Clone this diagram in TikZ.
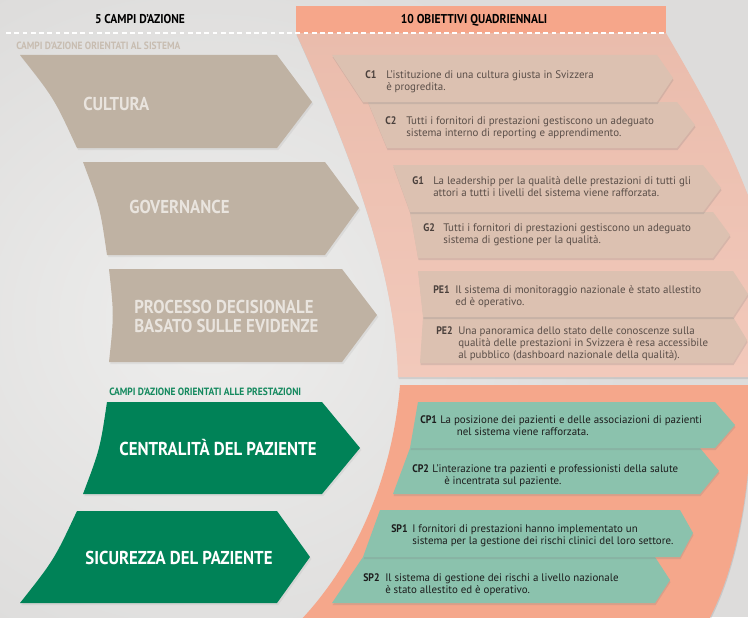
\documentclass[tikz,border=0pt]{standalone}
\usepackage{fontspec}
\setmainfont{PT Sans}[FakeStretch=0.9]
\newfontfamily\objfont{PT Sans}
\usetikzlibrary{shadows}
\definecolor{bgA}{HTML}{DDDCDB}
\definecolor{bgB}{HTML}{EEEEED}
\definecolor{hdr}{HTML}{F6A68A}
\definecolor{upA}{HTML}{EABCAC}
\definecolor{upB}{HTML}{F2C9BB}
\definecolor{lowband}{HTML}{F5A78B}
\definecolor{uppanel}{HTML}{DCC1B1}
\definecolor{lowpanel}{HTML}{8BC2AD}
\definecolor{beige}{HTML}{BFB2A3}
\definecolor{beigetext}{HTML}{E9E4DE}
\definecolor{beigelabel}{HTML}{C8BDB1}
\definecolor{green}{HTML}{008257}
\definecolor{greenlabel}{HTML}{14895E}
\definecolor{uptext}{HTML}{5A4E48}
\definecolor{uplab}{HTML}{4A403C}
\definecolor{lowtext}{HTML}{1C1C1C}
\tikzset{
  panelshadow/.style={drop shadow={opacity=0.22, shadow xshift=0.4pt, shadow yshift=-1.6pt}},
  arrowshadow/.style={drop shadow={opacity=0.12, shadow xshift=1pt, shadow yshift=-1.5pt}},
  head/.style={anchor=base, inner sep=0pt, font=\fontsize{9.6}{11}\selectfont\bfseries, text=black},
  grouplabel/.style={anchor=base west, inner sep=0pt, font=\fontsize{7.9}{9}\selectfont\bfseries},
  bigtext/.style={inner sep=0pt, font=\fontsize{14}{14.25}\selectfont\bfseries},
  objlab/.style={anchor=base west, inner sep=0pt, font=\fontsize{8.2}{9}\selectfont\bfseries},
  objtext/.style={anchor=base west, inner sep=0pt, font=\objfont\fontsize{8.2}{9}\selectfont},
}
\newcommand{\lines}[1]{\begin{tabular}[t]{@{}l@{}}#1\end{tabular}}
\begin{document}
\begin{tikzpicture}[x=0.75pt,y=-0.75pt]
\useasboundingbox (0,0) rectangle (748,617);
\clip (0,0) rectangle (748,617);
% background
\fill[bgA] (0,0) rectangle (748,617);
\shade[inner color=bgB, outer color=bgA] (210,320) ellipse [x radius=420, y radius=380];

% upper band
\shade[top color=upA, bottom color=upB, panelshadow]
  (296,33) -- (666,33) .. controls (705,100) and (740,160) .. (770,260)
  -- (770,377) -- (398,377) .. controls (395,260) and (340,130) .. (296,33) -- cycle;
% lower band
\fill[lowband, panelshadow]
  (400,385) -- (760,385) -- (752,385) .. controls (752,470) and (742,560) .. (706,625)
  -- (296,625) .. controls (360,560) and (393,470) .. (400,385) -- cycle;

% header
\fill[hdr] (296,6) rectangle (666,33);
\draw[white, line width=0.9pt, dash pattern=on 3.6pt off 2.6pt] (6,33) -- (666,33);
\node[head] (campi) at (140,24) {5 CAMPI D’AZIONE};
\node[head] (obiettivi) at (474,24) {10 OBIETTIVI QUADRIENNALI};

% group labels
\node[grouplabel, text=beigelabel] (lsys) at (16,50) {CAMPI D’AZIONE ORIENTATI AL SISTEMA};
\node[grouplabel, text=greenlabel] (lprest) at (109,395) {CAMPI D’AZIONE ORIENTATI ALLE PRESTAZIONI};

% left arrows
\fill[beige, arrowshadow] (20,55) -- (277,55) -- (312,102) -- (277,148) -- (77,148) .. controls (54,98) .. (20,55) -- cycle;
\fill[beige, arrowshadow] (83,162) -- (325,162) -- (359,208) -- (325,255) -- (107,255) .. controls (100,207) .. (83,162) -- cycle;
\fill[beige, arrowshadow] (109,269) -- (342,269) -- (377,315) -- (342,362) -- (109,362) .. controls (114,315) .. (109,269) -- cycle;
\fill[green, arrowshadow] (107,402) -- (322,402) -- (360,448) -- (322,494) -- (83,494) .. controls (100,449) .. (107,402) -- cycle;
\fill[green, arrowshadow] (77,511) -- (277,511) -- (310,557) -- (277,603) -- (20,603) .. controls (54,560) .. (77,511) -- cycle;

\node[bigtext, anchor=base west, text=beigetext] (cultura) at (83,110) {CULTURA};
\node[bigtext, anchor=base west, text=beigetext] (governance) at (129,213) {GOVERNANCE};
\node[bigtext, anchor=base west, text=beigetext] (processo) at (134,313) {\lines{PROCESSO DECISIONALE\\BASATO SULLE EVIDENZE}};
\node[bigtext, anchor=base, text=white] (centralita) at (218,455) {CENTRALITÀ DEL PAZIENTE};
\node[bigtext, anchor=base, text=white] (sicurezza) at (179,564) {SICUREZZA DEL PAZIENTE};

% upper panels
\fill[uppanel, panelshadow] (368,102) -- (677,102) -- (695,125) -- (677,148) -- (387,148) -- cycle;
\fill[uppanel, panelshadow] (332,55) -- (657,55) -- (673,78) -- (657,102) -- (363,102) -- cycle;
\fill[uppanel, panelshadow] (410,212) -- (713,212) -- (730,235) -- (713,258) -- (418,258) -- cycle;
\fill[uppanel, panelshadow] (393,165) -- (703,165) -- (721,188) -- (703,212) -- (410,212) -- cycle;
\fill[uppanel, panelshadow] (423,317) -- (733,317) -- (747,340) -- (733,363) -- (420,363) -- cycle;
\fill[uppanel, panelshadow] (418,271) -- (733,271) -- (748,294) -- (733,317) -- (423,317) -- cycle;

% lower panels
\fill[lowpanel, panelshadow] (410,448) -- (700,448) -- (719,471) -- (700,494) -- (393,494) -- cycle;
\fill[lowpanel, panelshadow] (418,402) -- (715,402) -- (735,425) -- (715,448) -- (410,448) -- cycle;
\fill[lowpanel, panelshadow] (363,557) -- (655,557) -- (670,580) -- (655,603) -- (332,603) -- cycle;
\fill[lowpanel, panelshadow] (380,510) -- (680,510) -- (693,533) -- (680,557) -- (363,557) -- cycle;

% upper objective texts
\node[objlab, text=uplab] (c1l) at (365,79) {C1};
\node[objtext, text=uptext] (c1) at (386,79) {\lines{L’istituzione di una cultura giusta in Svizzera\\è progredita.}};
\node[objlab, text=uplab] (c2l) at (385,124) {C2};
\node[objtext, text=uptext] (c2) at (406,124) {\lines{Tutti i fornitori di prestazioni gestiscono un adeguato\\sistema interno di reporting e apprendimento.}};
\node[objlab, text=uplab] (g1l) at (412,184) {G1};
\node[objtext, text=uptext] (g1) at (433,184) {\lines{La leadership per la qualità delle prestazioni di tutti gli\\attori a tutti i livelli del sistema viene rafforzata.}};
\node[objlab, text=uplab] (g2l) at (423,231) {G2};
\node[objtext, text=uptext] (g2) at (443,231) {\lines{Tutti i fornitori di prestazioni gestiscono un adeguato\\sistema di gestione per la qualità.}};
\node[objlab, text=uplab] (pe1l) at (433,293) {PE1};
\node[objtext, text=uptext] (pe1) at (455,293) {\lines{Il sistema di monitoraggio nazionale è stato allestito\\ed è operativo.}};
\node[objlab, text=uplab] (pe2l) at (436,334) {PE2};
\node[objtext, text=uptext] (pe2) at (458,334) {\lines{Una panoramica dello stato delle conoscenze sulla\\qualità delle prestazioni in Svizzera è resa accessibile\\al pubblico (dashboard nazionale della qualità).}};

% lower objective texts
\node[objlab, text=lowtext] (cp1l) at (420,423) {CP1};
\node[objtext, text=lowtext] (cp1) at (440,423) {\lines{La posizione dei pazienti e delle associazioni di pazienti\\\hspace{12.5pt}nel sistema viene rafforzata.}};
\node[objlab, text=lowtext] (cp2l) at (412,472) {CP2};
\node[objtext, text=lowtext] (cp2) at (432,472) {\lines{L’interazione tra pazienti e professionisti della salute\\\hspace{9pt}è incentrata sul paziente.}};
\node[objlab, text=lowtext] (sp1l) at (391,532) {SP1};
\node[objtext, text=lowtext] (sp1) at (412,532) {\lines{I fornitori di prestazioni hanno implementato un\\sistema per la gestione dei rischi clinici del loro settore.}};
\node[objlab, text=lowtext] (sp2l) at (363,581) {SP2};
\node[objtext, text=lowtext] (sp2) at (385,581) {\lines{Il sistema di gestione dei rischi a livello nazionale\\è stato allestito ed è operativo.}};
\end{tikzpicture}
\end{document}
